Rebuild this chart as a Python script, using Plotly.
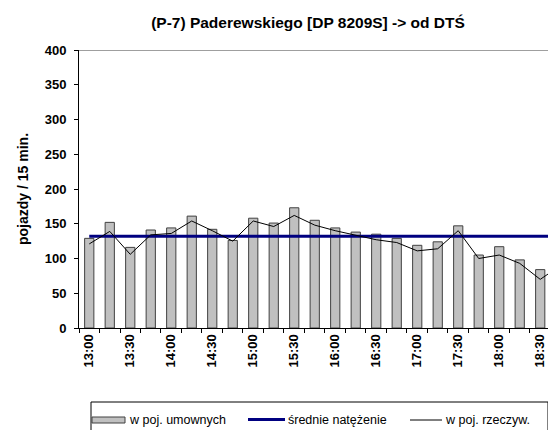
import plotly.graph_objects as go

categories = ["13:00", "13:15", "13:30", "13:45", "14:00", "14:15", "14:30", "14:45",
              "15:00", "15:15", "15:30", "15:45", "16:00", "16:15", "16:30", "16:45",
              "17:00", "17:15", "17:30", "17:45", "18:00", "18:15", "18:30", "18:45"]
umowne = [129, 152, 116, 141, 144, 161, 142, 126, 158, 151, 173, 155,
          144, 138, 135, 129, 119, 124, 147, 105, 117, 98, 84, 93]
rzeczywiste = [121, 139, 106, 134, 136, 154, 140, 125, 154, 146, 162, 148,
               140, 134, 127, 123, 111, 114, 140, 100, 105, 93, 70, 90]
srednie = [132] * len(categories)
tick_labels = [c if i % 2 == 0 else "" for i, c in enumerate(categories)]
y_ticks = [0, 50, 100, 150, 200, 250, 300, 350, 400]

FONT = "Liberation Sans, Arial, sans-serif"

fig = go.Figure()
fig.add_trace(go.Bar(x=categories, y=umowne, name="w poj. umownych",
                     marker=dict(color="#C0C0C0", line=dict(color="#404040", width=1)),
                     width=0.45, showlegend=False))
fig.add_trace(go.Scatter(x=categories, y=srednie, name="średnie natężenie", mode="lines",
                         line=dict(color="#000080", width=3), showlegend=False))
fig.add_trace(go.Scatter(x=categories, y=rzeczywiste, name="w poj. rzeczyw.", mode="lines",
                         line=dict(color="#000000", width=1), showlegend=False))

L, R, T, B = 71, 0, 42, 110
W, H = 556, 430
pw = W - L - R
ph = H - T - B

def px(x):
    return (x - L) / pw

def py(y):
    return (H - B - y) / ph

shapes = [
    dict(type="rect", xref="paper", yref="paper", x0=px(83), x1=px(540), y0=py(428), y1=py(394),
         line=dict(color="#000000", width=1), fillcolor="white"),
    dict(type="rect", xref="paper", yref="paper", x0=px(84), x1=px(117), y0=py(415), y1=py(409),
         line=dict(color="#404040", width=1), fillcolor="#C0C0C0"),
    dict(type="line", xref="paper", yref="paper", x0=px(240), x1=px(277), y0=py(411.5), y1=py(411.5),
         line=dict(color="#000080", width=3)),
    dict(type="line", xref="paper", yref="paper", x0=px(402), x1=px(434), y0=py(412), y1=py(412),
         line=dict(color="#000000", width=1)),
]
annotations = [
    dict(text="w poj. umownych", x=px(119), y=py(412), xref="paper", yref="paper",
         xanchor="left", yanchor="middle", showarrow=False, font=dict(size=12.5, family=FONT, color="black")),
    dict(text="średnie natężenie", x=px(278), y=py(412), xref="paper", yref="paper",
         xanchor="left", yanchor="middle", showarrow=False, font=dict(size=12.5, family=FONT, color="black")),
    dict(text="w poj. rzeczyw.", x=px(435), y=py(412), xref="paper", yref="paper",
         xanchor="left", yanchor="middle", showarrow=False, font=dict(size=12.5, family=FONT, color="black")),
]

fig.update_layout(
    width=W, height=H,
    margin=dict(l=L, r=R, t=T, b=B, pad=0),
    paper_bgcolor="white", plot_bgcolor="white",
    title=dict(text="<b>(P-7) Paderewskiego [DP 8209S] -> od DTŚ</b>", x=(300) / W, xanchor="center",
               y=1 - 15 / H, yanchor="middle", font=dict(size=15.5, family=FONT, color="black")),
    font=dict(family=FONT, color="black"),
    shapes=shapes,
    annotations=annotations,
    showlegend=False,
)
fig.update_xaxes(
    type="category", range=[-0.5, 23.16],
    tickmode="array", tickvals=categories, ticktext=tick_labels,
    tickson="boundaries", ticks="outside", ticklen=4, tickcolor="black",
    tickangle=-90, tickfont=dict(size=13, family=FONT, color="black", weight="bold"),
    showline=True, linecolor="black", linewidth=1, mirror=False,
    showgrid=False, zeroline=False,
)
fig.update_yaxes(
    range=[0, 400], tickmode="array", tickvals=y_ticks,
    ticks="outside", ticklen=4, tickcolor="black",
    tickfont=dict(size=13, family=FONT, color="black", weight="bold"),
    ticklabelstandoff=5,
    showline=True, linecolor="black", linewidth=1,
    showgrid=False, zeroline=False,
    title=dict(text="<b>pojazdy / 15 min.</b>", font=dict(size=14, family=FONT, color="black"), standoff=12),
)
# top border of plot area
fig.add_shape(type="line", xref="paper", yref="y", x0=0, x1=1, y0=400, y1=400,
              line=dict(color="#404040", width=1))

fig.write_html("out.html")
